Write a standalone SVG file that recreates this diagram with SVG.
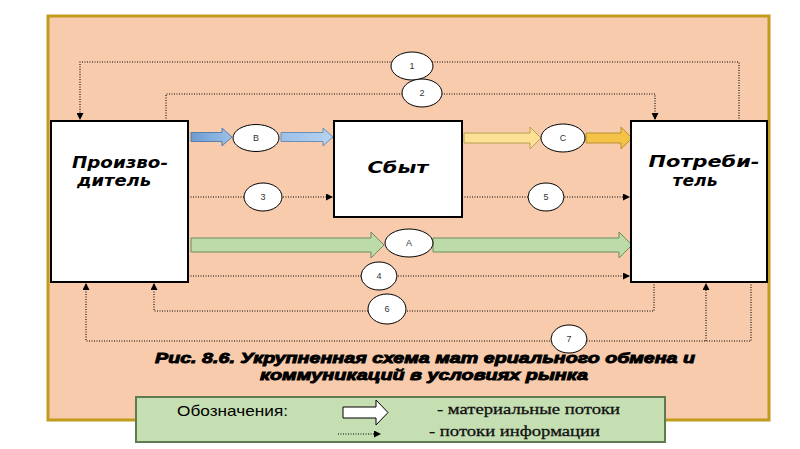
<svg xmlns="http://www.w3.org/2000/svg" width="800" height="449" viewBox="0 0 800 449">
<defs>
<style>
.box{fill:#fff;stroke:#000;stroke-width:2}
.ell{fill:#fff;stroke:#000;stroke-width:1}
.lbl{font-family:"Liberation Sans",Arial,sans-serif;font-size:9px;fill:#333;text-anchor:middle}
.info{fill:none;stroke:#000;stroke-width:1.1;stroke-dasharray:1 1.5}
.name{font-family:"DejaVu Sans",sans-serif;font-weight:bold;font-style:italic;font-size:15px;fill:#000}
.cap{font-family:"Liberation Sans",Arial,sans-serif;font-weight:bold;font-style:italic;font-size:14.5px;fill:#000;stroke:#000;stroke-width:0.9}
.leg{font-family:"Liberation Serif",serif;font-size:15.5px;fill:#111;stroke:#111;stroke-width:0.3}
</style>
<marker id="ah" markerWidth="7" markerHeight="7" refX="6" refY="3.5" orient="auto" markerUnits="userSpaceOnUse">
<path d="M0,0 L7,3.5 L0,7 Z" fill="#000"/>
</marker>
<linearGradient id="gb1" x1="0" y1="0" x2="1" y2="0"><stop offset="0" stop-color="#6D9CD2"/><stop offset="1" stop-color="#9CC0E8"/></linearGradient>
<linearGradient id="gb2" x1="0" y1="0" x2="1" y2="0"><stop offset="0" stop-color="#9DC0E8"/><stop offset="1" stop-color="#B6D2F0"/></linearGradient>
</defs>
<rect x="48" y="16" width="721" height="404" fill="#F8CBAD" stroke="#C29A1C" stroke-width="3"/>

<g id="connectors">
<path class="info" d="M739,121 V62 H80 V119" marker-end="url(#ah)"/>
<path class="info" d="M166,121 V94 H655 V119" marker-end="url(#ah)"/>
<path class="info" d="M188,197 H332" marker-end="url(#ah)"/>
<path class="info" d="M462,197 H629" marker-end="url(#ah)"/>
<path class="info" d="M188,276 H629" marker-end="url(#ah)"/>
<path class="info" d="M654,282 V311 H154 V284" marker-end="url(#ah)"/>
<path class="info" d="M751,282 V341 H86 V284" marker-end="url(#ah)"/>
<path class="info" d="M706,341 V284" marker-end="url(#ah)"/>
<polygon points="191,132.5 222,132.5 222,128 232,137 222,146 222,141.5 191,141.5" fill="url(#gb1)" stroke="#5A7FA8" stroke-width="1"/>
<polygon points="281,132.5 323,132.5 323,128 333,137 323,146 323,141.5 281,141.5" fill="url(#gb2)" stroke="#6A8FB8" stroke-width="1"/>
<polygon points="464,133 530,133 530,127 541,138 530,149 530,143 464,143" fill="#FCE094" stroke="#B8A050" stroke-width="1"/>
<polygon points="586,133 621,133 621,127 632,138 621,149 621,143 586,143" fill="#F4C247" stroke="#B89030" stroke-width="1"/>
<polygon points="191,238 371,238 371,232 384,245 371,258 371,252 191,252" fill="#BCDBA8" stroke="#6E8A60" stroke-width="1"/>
<polygon points="433,238 619,238 619,232 632,245 619,258 619,252 433,252" fill="#BCDBA8" stroke="#6E8A60" stroke-width="1"/>
</g>

<g id="producer">
<rect class="box" x="51" y="121" width="137" height="161"/>
<text class="name" x="120" y="168" text-anchor="middle" textLength="96" lengthAdjust="spacingAndGlyphs">Произво-</text>
<text class="name" x="114" y="186" text-anchor="middle" textLength="74" lengthAdjust="spacingAndGlyphs">дитель</text>
</g>
<g id="sales">
<rect class="box" x="334" y="121" width="128" height="96"/>
<text class="name" x="398" y="173" text-anchor="middle" textLength="61" lengthAdjust="spacingAndGlyphs">Сбыт</text>
</g>
<g id="consumer">
<rect class="box" x="631" y="121" width="136" height="161"/>
<text class="name" x="704" y="167" text-anchor="middle" textLength="111" lengthAdjust="spacingAndGlyphs">Потреби-</text>
<text class="name" x="695" y="186" text-anchor="middle" textLength="45" lengthAdjust="spacingAndGlyphs">тель</text>
</g>

<g id="e1"><ellipse class="ell" cx="412" cy="66" rx="21" ry="14"/><text class="lbl" x="412" y="69">1</text></g>
<g id="e2"><ellipse class="ell" cx="422" cy="93" rx="20" ry="14"/><text class="lbl" x="422" y="96">2</text></g>
<g id="eB"><ellipse class="ell" cx="256" cy="138" rx="23" ry="13.5"/><text class="lbl" x="256" y="141">B</text></g>
<g id="eC"><ellipse class="ell" cx="563" cy="138" rx="22" ry="14"/><text class="lbl" x="563" y="141">C</text></g>
<g id="e3"><ellipse class="ell" cx="263" cy="197" rx="19" ry="14"/><text class="lbl" x="263" y="200">3</text></g>
<g id="e5"><ellipse class="ell" cx="546" cy="197" rx="18" ry="14"/><text class="lbl" x="546" y="200">5</text></g>
<g id="eA"><ellipse class="ell" cx="409" cy="243" rx="24" ry="14"/><text class="lbl" x="409" y="246">A</text></g>
<g id="e4"><ellipse class="ell" cx="379" cy="276" rx="18" ry="14"/><text class="lbl" x="379" y="279">4</text></g>
<g id="e6"><ellipse class="ell" cx="387" cy="309" rx="19" ry="15"/><text class="lbl" x="387" y="312">6</text></g>
<g id="e7"><ellipse class="ell" cx="569" cy="339" rx="18" ry="14"/><text class="lbl" x="569" y="342">7</text></g>

<g id="caption">
<text class="cap" x="155" y="363" textLength="540" lengthAdjust="spacingAndGlyphs">Рис. 8.6. Укрупненная схема мат ериального обмена и</text>
<text class="cap" x="260" y="380" textLength="328" lengthAdjust="spacingAndGlyphs">коммуникаций в условиях рынка</text>
</g>

<g id="legend">
<rect x="136" y="397" width="529" height="45" fill="#C5DFB3" stroke="#5E7A50" stroke-width="2"/>
<text x="177" y="416" font-family="Liberation Sans, Arial, sans-serif" font-size="15" fill="#000" textLength="111" lengthAdjust="spacingAndGlyphs">Обозначения:</text>
<polygon points="343,407 376,407 376,400 388,412.5 376,425 376,418 343,418" fill="#fff" stroke="#000" stroke-width="1"/>
<path class="info" d="M338,434 H380" marker-end="url(#ah)"/>
<text class="leg" x="437" y="414" textLength="183" lengthAdjust="spacingAndGlyphs">- материальные потоки</text>
<text class="leg" x="429" y="436" textLength="171" lengthAdjust="spacingAndGlyphs">- потоки информации</text>
</g>
</svg>
